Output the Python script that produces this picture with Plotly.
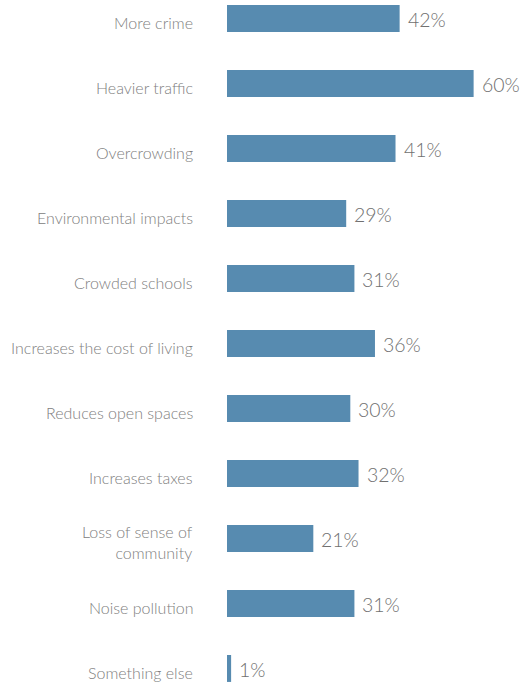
import plotly.graph_objects as go

categories = [
    "More crime",
    "Heavier traffic",
    "Overcrowding",
    "Environmental impacts",
    "Crowded schools",
    "Increases the cost of living",
    "Reduces open spaces",
    "Increases taxes",
    "Loss of sense of<br>community",
    "Noise pollution",
    "Something else",
]
values = [42, 60, 41, 29, 31, 36, 30, 32, 21, 31, 1]
value_labels = [f"{v}%" for v in values]

positions = list(range(len(categories)))

BAR_COLOR = "#578bb0"
FONT = "Source Sans Pro, Lato, Open Sans, sans-serif"

fig = go.Figure(
    go.Bar(
        x=values,
        y=positions,
        orientation="h",
        marker=dict(color=BAR_COLOR, line=dict(width=0)),
        width=0.415,
        hoverinfo="skip",
    )
)

# value labels to the right of each bar
for pos, val, lab in zip(positions, values, value_labels):
    fig.add_annotation(
        x=val, y=pos, xref="x", yref="y",
        text=lab, showarrow=False,
        xanchor="left", yanchor="middle", xshift=6, yshift=-1,
        font=dict(family=FONT, size=19.5, color="#707070", weight=300),
    )

# category labels to the left of the axis
for pos, cat in zip(positions, categories):
    fig.add_annotation(
        x=0, y=pos, xref="x", yref="y",
        text=cat, showarrow=False,
        xanchor="right", yanchor="middle", align="right", xshift=-32, yshift=-4,
        font=dict(family=FONT, size=16, color="#808080", weight=300),
    )

fig.update_layout(
    width=525,
    height=686,
    margin=dict(l=227, r=0, t=0, b=0),
    paper_bgcolor="white",
    plot_bgcolor="white",
    showlegend=False,
    xaxis=dict(range=[0, 72.5], visible=False, fixedrange=True),
    yaxis=dict(range=[10.27, -0.285], visible=False, fixedrange=True),
)

fig.write_html("out.html")
